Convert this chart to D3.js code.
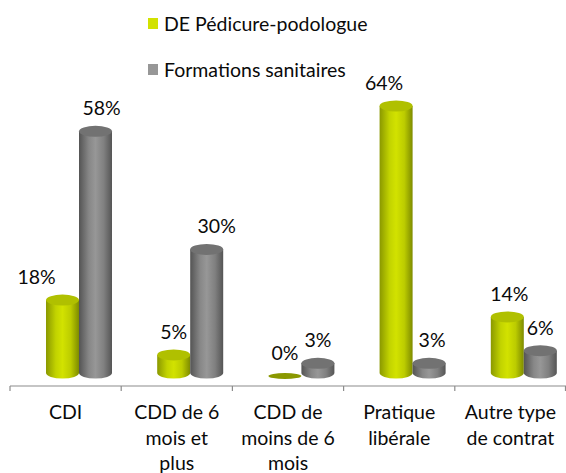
<!DOCTYPE html>
<html>
<head>
<meta charset="utf-8">
<script src="https://cdn.jsdelivr.net/npm/d3@7"></script>
<style>
  body { margin: 0; background: #fff; }
  text { font-family: Lato, "Open Sans", sans-serif; fill: #0a0a0a; }
</style>
</head>
<body>
<svg id="chart" width="566" height="473"></svg>
<script>
// Chart data
const categories = [
  ['CDI'],
  ['CDD de 6', 'mois et', 'plus'],
  ['CDD de', 'moins de 6', 'mois'],
  ['Pratique', 'libérale'],
  ['Autre type', 'de contrat']
];
const seriesNames = ['DE Pédicure-podologue', 'Formations sanitaires'];
const pedicure = [18, 5, 0, 64, 14];
const sanitaires = [58, 30, 3, 3, 6];

const svg = d3.select('#chart');
const width = 566;
const fontSize = 19.5;

// Colours for each series (side gradient stops + top ellipse)
const palette = [
  { stops: ['#8a9800', '#c2d300', '#d2e200', '#bccc00', '#7e8b00'], top: '#b0c000' },
  { stops: ['#545454', '#878787', '#979797', '#808080', '#555555'], top: '#727272' }
];

const defs = svg.append('defs');
palette.forEach((p, i) => {
  const g = defs.append('linearGradient').attr('id', 'side' + i)
    .attr('x1', 0).attr('x2', 1).attr('y1', 0).attr('y2', 0);
  [0, 0.3, 0.5, 0.75, 1].forEach((o, k) => g.append('stop').attr('offset', o).attr('stop-color', p.stops[k]));
});

// Scales
const x = d3.scaleBand().domain(d3.range(categories.length)).range([10, width]).padding(0);
const xSub = d3.scaleBand().domain([0, 1]).range([36, 102]).padding(0);
const y = d3.scaleLinear().domain([0, 64]).range([376, 106]);
const baseY = 373; // centre of bottom ellipse
const ry = 5.5;

// Axis
const axisY = 386;
svg.append('line').attr('x1', 10).attr('x2', width).attr('y1', axisY).attr('y2', axisY)
  .attr('stroke', '#8c8c8c').attr('stroke-width', 1.2);
const bounds = d3.range(categories.length + 1).map(i => i < categories.length ? x(i) : width - 0.5);
svg.selectAll('.tick').data(bounds).enter().append('line')
  .attr('x1', d => d).attr('x2', d => d).attr('y1', axisY).attr('y2', axisY + 5)
  .attr('stroke', '#8c8c8c').attr('stroke-width', 1.2);

// Category labels
categories.forEach((lines, i) => {
  const cx = x(i) + x.bandwidth() / 2;
  const t = svg.append('text').attr('text-anchor', 'middle').attr('font-size', fontSize)
    .attr('x', cx).attr('y', 419);
  lines.forEach((l, k) => t.append('tspan').attr('x', cx).attr('dy', k ? 25.5 : 0).text(l));
});

// Cylinders
const allSeries = [pedicure, sanitaires];
const labelNudge = { '0-0': -26, '0-1': 6, '1-1': 10, '3-0': -12, '3-1': 3, '4-0': 2 };
allSeries.forEach((vals, s) => {
  vals.forEach((v, i) => {
    const x0 = x(i) + xSub(s);
    const w = xSub.bandwidth();
    const cx = x0 + w / 2;
    const top = y(v);
    const bottom = Math.max(baseY, top);
    const g = svg.append('g');
    if (v > 0) {
      g.append('path')
        .attr('d', `M${x0},${top} L${x0},${bottom} A${w / 2},${ry} 0 0 0 ${x0 + w},${bottom} L${x0 + w},${top} Z`)
        .attr('fill', `url(#side${s})`);
    }
    g.append('ellipse').attr('cx', cx).attr('cy', top).attr('rx', w / 2).attr('ry', v > 0 ? ry : 3)
      .attr('fill', v > 0 ? palette[s].top : palette[s].stops[0]);
    svg.append('text').attr('text-anchor', 'middle').attr('font-size', fontSize)
      .attr('x', cx + (labelNudge[i + '-' + s] || 0)).attr('y', top - 16)
      .text(v + '%');
  });
});

// Legend
seriesNames.forEach((name, s) => {
  const ly = 24 + s * 46;
  svg.append('rect').attr('x', 148).attr('y', ly - 6).attr('width', 10).attr('height', 11)
    .attr('fill', palette[s].stops[2]);
  svg.append('text').attr('x', 164).attr('y', ly + 7).attr('font-size', fontSize).text(name);
});
</script>
</body>
</html>
